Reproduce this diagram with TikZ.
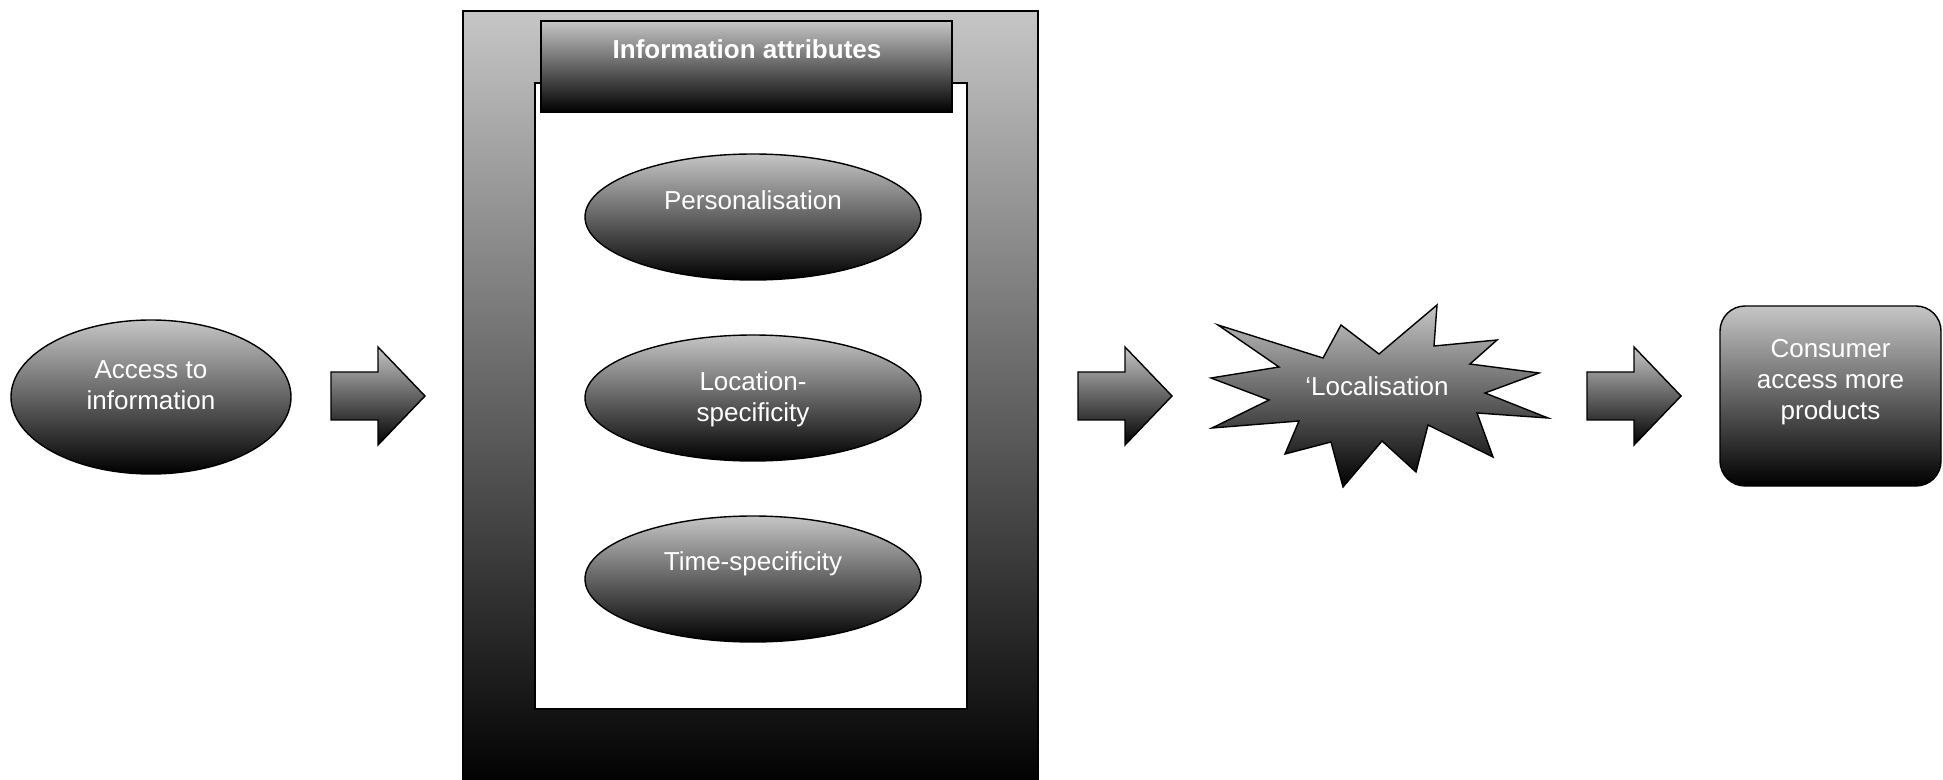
\documentclass[tikz,border=0pt]{standalone}
\usepackage{fontspec}
\setmainfont{Liberation Sans}
\usetikzlibrary{shapes.geometric}
\tikzset{
  grad/.style={draw=black, line width=0.7pt, top color=gray!45, bottom color=black},
  ell/.style={grad, ellipse, inner sep=0pt, minimum width=168pt, minimum height=63pt},
  txt/.style={text=white, font=\fontsize{13}{15.5}\selectfont, align=center, inner sep=0pt},
  fatarrow/.pic={\path[grad] (0,-24) -- (47,-24) -- (47,-49) -- (94,0) -- (47,49) -- (47,24) -- (0,24) -- cycle;}
}
\begin{document}
\begin{tikzpicture}[x=0.5pt,y=-0.5pt]
\useasboundingbox (0,0) rectangle (1943,780);
% big frame
\path[grad] (463,11) rectangle (1038,790);
\node[draw=black, line width=0.7pt, fill=white, inner sep=0pt, minimum width=216pt, minimum height=313pt] (inner) at (751,396) {};
\node[grad, inner sep=0pt, minimum width=205.5pt, minimum height=45.5pt] (head) at (746.5,66.5) {};
\node[txt, font=\fontsize{13}{15.5}\selectfont\bfseries] (headtxt) at (747,49) {Information attributes};
% attribute ellipses
\node[ell] (pers) at (753,217) {};
\node[txt] (perstxt) at (753,200) {Personalisation};
\node[ell] (loc) at (753,398) {};
\node[txt] (loctxt) at (753,399.5) {Location-\\specificity};
\node[ell] (time) at (753,579) {};
\node[txt] (timetxt) at (753,564) {Time-specificity};
% access
\node[grad, ellipse, inner sep=0pt, minimum width=140pt, minimum height=77pt] (access) at (151,397) {};
\node[txt] (accesstxt) at (151,385) {Access to\\information};
% arrows
\pic (a1) at (331,396) {fatarrow};
\pic (a2) at (1078,396) {fatarrow};
\pic (a3) at (1587,396) {fatarrow};
% starburst
\path[grad] (1218,325) -- (1323,358) -- (1341,325) -- (1379,354) -- (1437,305) -- (1434,346)
  -- (1497,340) -- (1470,364) -- (1539,373) -- (1485,393) -- (1548,418) -- (1477,413)
  -- (1493,457) -- (1428,425) -- (1416,472) -- (1382,441) -- (1343,487) -- (1331,442)
  -- (1285,454) -- (1299,421) -- (1212,428) -- (1269,400) -- (1211,378) -- (1279,367) -- cycle;
\node[txt] (localtxt) at (1377,386) {‘Localisation};
% consumer box
\node[grad, rounded corners=12.5pt, inner sep=0pt, minimum width=110.5pt, minimum height=90pt] (cons) at (1830.5,396) {};
\node[txt] (constxt) at (1830.5,382) {Consumer\\access more\\products};
\end{tikzpicture}
\end{document}
